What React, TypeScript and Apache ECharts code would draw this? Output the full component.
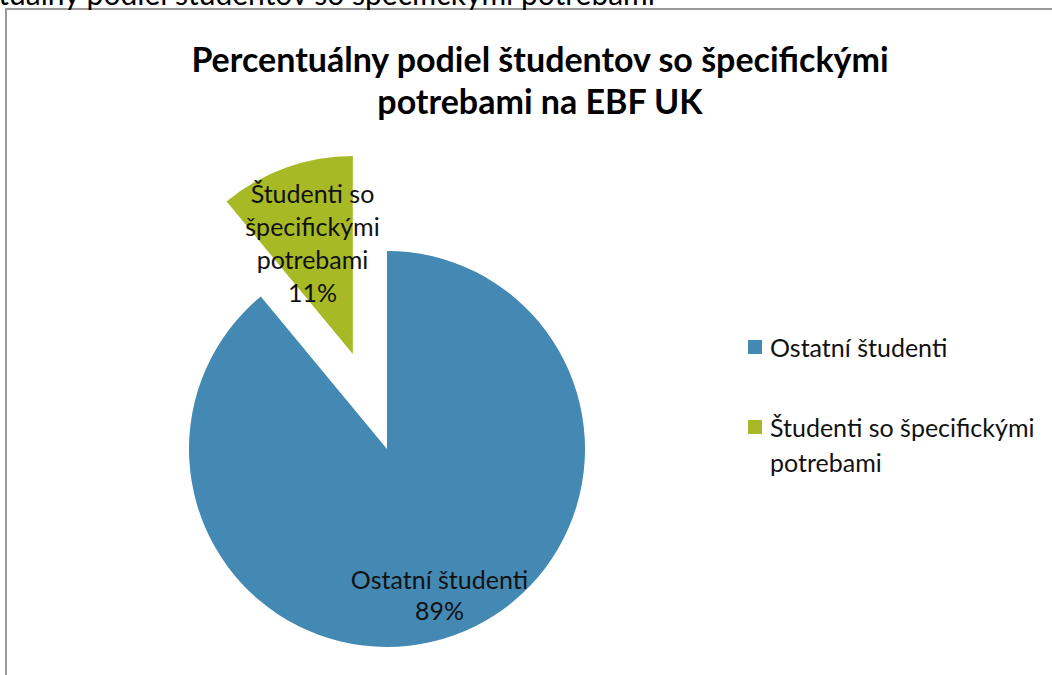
import React, { useEffect, useRef } from "react";
import * as echarts from "echarts";

const categories = ["Ostatní študenti", "Študenti so špecifickými potrebami"];
const values = [89, 11];
const labelTexts = ["Ostatní študenti", "Študenti so\nšpecifickými\npotrebami"];
const legendTexts = ["Ostatní študenti", "Študenti so špecifickými\npotrebami"];
const colors = ["#4389b4", "#a8b926"];
const titleText = "Percentuálny podiel študentov so špecifickými\npotrebami na EBF UK";
const cutText = "Percentuálny podiel študentov so špecifickými potrebami";

const FONT = "Lato, 'Open Sans', sans-serif";

export default function App() {
  const ref = useRef<HTMLDivElement>(null);
  useEffect(() => {
    if (!ref.current) return;
    const chart = echarts.init(ref.current, null, { renderer: "svg" });
    const center = [387, 449];
    const R = 198;
    const offset = 101;

    const baseData = categories.map((name, i) => ({
      name,
      value: values[i],
      selected: i === 1,
      itemStyle: { color: colors[i] },
      select: { itemStyle: { color: colors[i] } },
    }));

    const labelData = (idx: number, lh: number) =>
      categories.map((name, i) => ({
        name,
        value: values[i],
        selected: i === 1,
        itemStyle: { color: "rgba(0,0,0,0)" },
        select: { itemStyle: { color: "rgba(0,0,0,0)" } },
        label: {
          show: i === idx,
          position: "inside",
          formatter: labelTexts[i] + "\n" + values[i] + "%",
          fontFamily: FONT,
          fontSize: 25,
          lineHeight: lh,
          color: "#111",
          align: "center",
        },
      }));

    const commonPie = {
      type: "pie",
      center,
      startAngle: 90,
      clockwise: true,
      selectedMode: "single",
      selectedOffset: offset,
      silent: true,
      labelLine: { show: false },
      emphasis: { disabled: true },
    };

    chart.setOption({
      animation: false,
      title: {
        text: titleText,
        left: 535,
        top: 32,
        textAlign: "center",
        textStyle: {
          fontFamily: FONT,
          fontWeight: "bold",
          fontSize: 34,
          lineHeight: 42,
          color: "#000",
        },
      },
      graphic: [
        {
          type: "rect",
          z: -10,
          shape: { x: 6, y: 9, width: 1100, height: 700 },
          style: { fill: "none", stroke: "#9a9a9a", lineWidth: 2 },
        },
        {
          type: "text",
          x: 655,
          y: 8,
          style: {
            text: cutText,
            fontFamily: FONT,
            fontSize: 30,
            lineHeight: 30,
            fill: "#000",
            textAlign: "right",
            textVerticalAlign: "bottom",
          },
        },
        {
          type: "rect",
          shape: { x: 748, y: 340, width: 14, height: 14 },
          style: { fill: colors[0] },
        },
        {
          type: "text",
          x: 770,
          y: 347,
          style: {
            text: legendTexts[0],
            fontFamily: FONT,
            fontSize: 25,
            fill: "#111",
            textVerticalAlign: "middle",
          },
        },
        {
          type: "rect",
          shape: { x: 748, y: 420, width: 14, height: 14 },
          style: { fill: colors[1] },
        },
        {
          type: "text",
          x: 770,
          y: 409,
          style: {
            text: legendTexts[1],
            fontFamily: FONT,
            fontSize: 25,
            lineHeight: 35,
            fill: "#111",
            textVerticalAlign: "top",
          },
        },
      ],
      series: [
        {
          ...commonPie,
          radius: [0, R],
          label: { show: false },
          data: baseData,
        },
        {
          ...commonPie,
          radius: [106, R],
          z: 5,
          data: labelData(0, 31),
        },
        {
          ...commonPie,
          radius: [34, R],
          z: 5,
          data: labelData(1, 33),
        },
      ],
    });
    return () => chart.dispose();
  }, []);
  return (
    <div
      ref={ref}
      style={{ position: "absolute", left: 0, top: 0, width: 1052, height: 675, background: "#fff" }}
    />
  );
}
